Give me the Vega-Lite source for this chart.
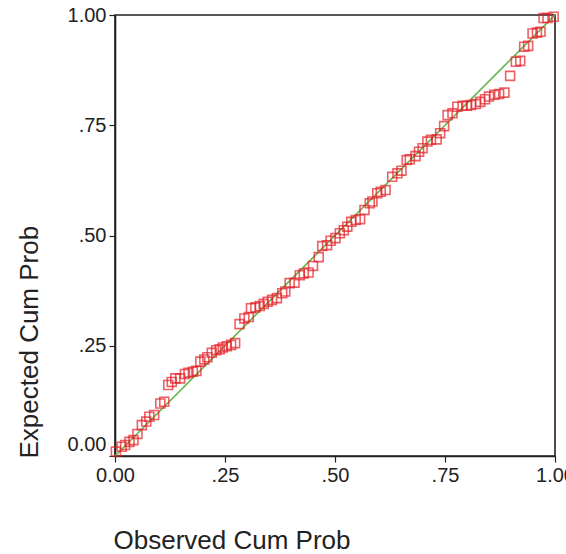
{
  "$schema": "https://vega.github.io/schema/vega-lite/v6.json",
  "width": 440,
  "height": 441,
  "autosize": "none",
  "padding": {"left": 115, "top": 15, "right": 11, "bottom": 98},
  "background": "white",
  "config": {
    "view": {"stroke": "#222", "strokeWidth": 1.6},
    "font": "Liberation Sans",
    "axis": {
      "domainColor": "#222",
      "domainWidth": 1.6,
      "tickColor": "#222",
      "tickWidth": 1.2,
      "tickSize": 6,
      "labelFont": "Liberation Sans",
      "labelFontSize": 20,
      "labelColor": "#222",
      "labelPadding": 3,
      "labelFlush": false,
      "titleFont": "Liberation Sans",
      "titleFontSize": 26,
      "titleFontWeight": "normal",
      "titleColor": "#222",
      "grid": false
    }
  },
  "datasets": {
    "pts": [
      {"o": 0.002, "e": 0.010}, {"o": 0.015, "e": 0.021}, {"o": 0.023, "e": 0.025}, {"o": 0.033, "e": 0.032},
      {"o": 0.042, "e": 0.036}, {"o": 0.051, "e": 0.050}, {"o": 0.061, "e": 0.070}, {"o": 0.071, "e": 0.078},
      {"o": 0.078, "e": 0.089}, {"o": 0.089, "e": 0.093}, {"o": 0.103, "e": 0.119}, {"o": 0.112, "e": 0.123},
      {"o": 0.121, "e": 0.161}, {"o": 0.129, "e": 0.168}, {"o": 0.137, "e": 0.176}, {"o": 0.148, "e": 0.176},
      {"o": 0.159, "e": 0.186}, {"o": 0.167, "e": 0.189}, {"o": 0.177, "e": 0.191}, {"o": 0.185, "e": 0.193},
      {"o": 0.194, "e": 0.214}, {"o": 0.203, "e": 0.219}, {"o": 0.210, "e": 0.224}, {"o": 0.220, "e": 0.234},
      {"o": 0.230, "e": 0.240}, {"o": 0.238, "e": 0.242}, {"o": 0.245, "e": 0.246}, {"o": 0.254, "e": 0.249},
      {"o": 0.264, "e": 0.252}, {"o": 0.273, "e": 0.256}, {"o": 0.283, "e": 0.299}, {"o": 0.294, "e": 0.312},
      {"o": 0.304, "e": 0.315}, {"o": 0.309, "e": 0.335}, {"o": 0.319, "e": 0.337}, {"o": 0.329, "e": 0.340},
      {"o": 0.338, "e": 0.345}, {"o": 0.347, "e": 0.350}, {"o": 0.357, "e": 0.354}, {"o": 0.368, "e": 0.358},
      {"o": 0.380, "e": 0.369}, {"o": 0.387, "e": 0.373}, {"o": 0.397, "e": 0.392}, {"o": 0.408, "e": 0.393},
      {"o": 0.420, "e": 0.410}, {"o": 0.429, "e": 0.414}, {"o": 0.440, "e": 0.416}, {"o": 0.450, "e": 0.431},
      {"o": 0.463, "e": 0.451}, {"o": 0.471, "e": 0.476}, {"o": 0.482, "e": 0.478}, {"o": 0.490, "e": 0.488},
      {"o": 0.501, "e": 0.494}, {"o": 0.511, "e": 0.505}, {"o": 0.520, "e": 0.512}, {"o": 0.528, "e": 0.520},
      {"o": 0.537, "e": 0.531}, {"o": 0.547, "e": 0.535}, {"o": 0.557, "e": 0.537}, {"o": 0.567, "e": 0.558},
      {"o": 0.579, "e": 0.573}, {"o": 0.585, "e": 0.577}, {"o": 0.596, "e": 0.596}, {"o": 0.604, "e": 0.599},
      {"o": 0.615, "e": 0.603}, {"o": 0.630, "e": 0.633}, {"o": 0.642, "e": 0.641}, {"o": 0.651, "e": 0.647},
      {"o": 0.663, "e": 0.671}, {"o": 0.670, "e": 0.673}, {"o": 0.683, "e": 0.680}, {"o": 0.691, "e": 0.690},
      {"o": 0.699, "e": 0.698}, {"o": 0.710, "e": 0.713}, {"o": 0.718, "e": 0.717}, {"o": 0.731, "e": 0.718},
      {"o": 0.739, "e": 0.732}, {"o": 0.748, "e": 0.748}, {"o": 0.756, "e": 0.773}, {"o": 0.767, "e": 0.777},
      {"o": 0.778, "e": 0.792}, {"o": 0.790, "e": 0.794}, {"o": 0.800, "e": 0.794}, {"o": 0.809, "e": 0.796},
      {"o": 0.820, "e": 0.798}, {"o": 0.830, "e": 0.803}, {"o": 0.841, "e": 0.809}, {"o": 0.850, "e": 0.815},
      {"o": 0.862, "e": 0.819}, {"o": 0.873, "e": 0.821}, {"o": 0.885, "e": 0.824}, {"o": 0.898, "e": 0.862},
      {"o": 0.911, "e": 0.894}, {"o": 0.921, "e": 0.896}, {"o": 0.930, "e": 0.928}, {"o": 0.939, "e": 0.930},
      {"o": 0.949, "e": 0.958}, {"o": 0.959, "e": 0.960}, {"o": 0.967, "e": 0.962}, {"o": 0.974, "e": 0.993},
      {"o": 0.983, "e": 0.993}, {"o": 0.997, "e": 0.996}
    ],
    "ref": [{"o": 0, "e": 0}, {"o": 1, "e": 1}]
  },
  "layer": [
    {
      "data": {"name": "ref"},
      "mark": {"type": "line", "color": "#62b545", "strokeWidth": 1.6},
      "encoding": {
        "x": {"field": "o", "type": "quantitative"},
        "y": {"field": "e", "type": "quantitative"}
      }
    },
    {
      "data": {"name": "pts"},
      "mark": {"type": "point", "shape": "square", "filled": false, "color": "#e41f26", "size": 80, "strokeWidth": 1.6},
      "encoding": {
        "x": {
          "field": "o", "type": "quantitative",
          "scale": {"domain": [0, 1], "nice": false, "zero": false},
          "axis": {
            "values": [0, 0.25, 0.5, 0.75, 1],
            "labelExpr": "datum.value == 0 ? '0.00' : datum.value == 1 ? '1.00' : slice(format(datum.value, '.2f'), 1)",
            "title": "Observed Cum Prob",
            "titleAnchor": null,
            "titleAlign": "left",
            "titleBaseline": "alphabetic",
            "titleX": -2,
            "titleY": 92
          }
        },
        "y": {
          "field": "e", "type": "quantitative",
          "scale": {"domain": [0, 1], "nice": false, "zero": false},
          "axis": {
            "values": [0, 0.25, 0.5, 0.75, 1],
            "labelExpr": "datum.value == 0 ? '0.00' : datum.value == 1 ? '1.00' : slice(format(datum.value, '.2f'), 1)",
            "labelOffset": {"condition": {"test": "datum.value == 0", "value": -12}, "value": 0},
            "title": "Expected Cum Prob",
            "titleAnchor": null,
            "titleAngle": -90,
            "titleAlign": "left",
            "titleBaseline": "alphabetic",
            "titleX": -78,
            "titleY": 443
          }
        }
      }
    }
  ]
}
